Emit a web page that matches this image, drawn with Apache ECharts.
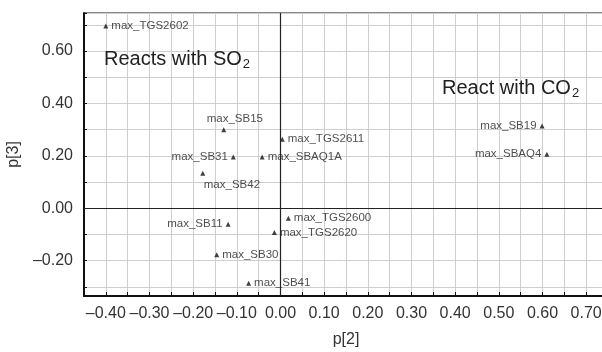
<!DOCTYPE html>
<html>
<head>
<meta charset="utf-8">
<script src="https://cdn.jsdelivr.net/npm/echarts@6/dist/echarts.min.js"></script>
<style>
  html, body { margin: 0; padding: 0; background: #fff; }
  #chart { width: 602px; height: 352px; }
</style>
</head>
<body>
<div id="chart"></div>
<script>
// loadings
const names = ['max_TGS2602', 'max_SB15', 'max_TGS2611', 'max_SB31', 'max_SBAQ1A', 'max_SB42',
  'max_SB19', 'max_SBAQ4', 'max_SB11', 'max_TGS2600', 'max_TGS2620', 'max_SB30', 'max_SB41'];
const p2 = [-0.400, -0.130, 0.004, -0.108, -0.042, -0.178, 0.599, 0.610, -0.120, 0.018, -0.014, -0.146, -0.073];
const p3 = [0.695, 0.299, 0.263, 0.195, 0.195, 0.133, 0.314, 0.206, -0.061, -0.038, -0.093, -0.178, -0.286];

const xTickLabels = [-0.4, -0.3, -0.2, -0.1, 0, 0.1, 0.2, 0.3, 0.4, 0.5, 0.6, 0.7];
const yTickLabels = [-0.2, 0, 0.2, 0.4, 0.6];

// which side of the marker each name sits on
const labelSide = {
  max_TGS2602: 'right', max_SB15: 'top', max_TGS2611: 'right', max_SB31: 'left',
  max_SBAQ1A: 'right', max_SB42: 'bottom', max_SB19: 'left', max_SBAQ4: 'left',
  max_SB11: 'left', max_TGS2600: 'right', max_TGS2620: 'right', max_SB30: 'right', max_SB41: 'right'
};

const sans = "'Liberation Sans', Arial, sans-serif";

const fmt = v => (v < 0 ? '\u2013' : '') + Math.abs(v).toFixed(2);
const inList = (list, v) => list.some(t => Math.abs(t - v) < 1e-6);

const chart = echarts.init(document.getElementById('chart'));

const points = names.map((n, i) => {
  const label = { position: labelSide[n] };
  // a couple of names are not centred on their marker
  if (n === 'max_SB42') { label.align = 'left'; label.offset = [1, 0]; }
  if (n === 'max_SB15') { label.align = 'left'; label.offset = [-17, 0]; }
  return { value: [p2[i], p3[i]], name: n, label };
});

chart.setOption({
  animation: false,
  backgroundColor: '#fff',
  grid: {
    left: 84, top: 13, right: -6, bottom: 56,
    containLabel: false, outerBoundsMode: 'none',
    show: true, borderColor: '#111', borderWidth: 1
  },
  xAxis: {
    type: 'value',
    min: -0.45, max: 0.75, interval: 0.05,
    name: 'p[2]', nameLocation: 'middle', nameGap: 36,
    nameTextStyle: { fontFamily: sans, fontSize: 16, color: '#333' },
    axisLine: { show: true, onZero: false, lineStyle: { color: '#111', width: 2 } },
    axisTick: { show: true, inside: true, length: 4, lineStyle: { color: '#111' } },
    axisLabel: {
      margin: 10, fontFamily: sans, fontSize: 16, color: '#333',
      formatter: v => inList(xTickLabels, v) ? fmt(v) : ''
    },
    splitLine: { show: true, lineStyle: { color: '#cfcfcf', width: 1 } }
  },
  yAxis: {
    type: 'value',
    min: -0.335, max: 0.745, minInterval: 0.1, maxInterval: 0.1,
    name: 'p[3]', nameLocation: 'middle', nameGap: 52,
    nameTextStyle: { fontFamily: sans, fontSize: 16, color: '#333' },
    axisLine: { show: true, onZero: false, lineStyle: { color: '#111', width: 2 } },
    axisTick: { show: true, inside: true, length: 3, lineStyle: { color: '#111' } },
    axisLabel: {
      margin: 11, fontFamily: sans, fontSize: 16, color: '#333',
      formatter: v => inList(yTickLabels, v) ? fmt(v) : ''
    },
    splitLine: { show: true, lineStyle: { color: '#cfcfcf', width: 1 } }
  },
  series: [{
    type: 'scatter',
    symbol: 'triangle',
    symbolSize: 5,
    itemStyle: { color: '#111' },
    label: {
      show: true, distance: 3, formatter: '{b}',
      fontFamily: sans, fontSize: 11.5, color: '#222'
    },
    data: points,
    markLine: {
      silent: true, symbol: 'none', label: { show: false },
      lineStyle: { color: '#222', width: 1.2, type: 'solid' },
      data: [{ xAxis: 0 }, { yAxis: 0 }]
    }
  }],
  graphic: [
    {
      type: 'text', left: 104, top: 49, z: 100,
      style: {
        text: '{m|Reacts with SO}{s|2}',
        rich: {
          m: { fontFamily: sans, fontSize: 20, fill: '#222' },
          s: { fontFamily: sans, fontSize: 13, fill: '#222', padding: [10, 0, 0, 1] }
        }
      }
    },
    {
      type: 'text', left: 442, top: 78, z: 100,
      style: {
        text: '{m|React with CO}{s|2}',
        rich: {
          m: { fontFamily: sans, fontSize: 20, fill: '#222' },
          s: { fontFamily: sans, fontSize: 13, fill: '#222', padding: [10, 0, 0, 1] }
        }
      }
    }
  ]
});
</script>
</body>
</html>
